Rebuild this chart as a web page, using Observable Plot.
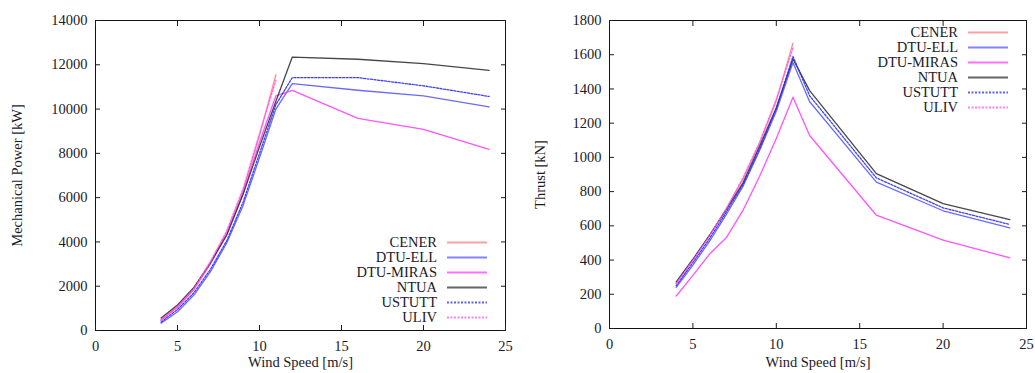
<!DOCTYPE html>
<html>
<head>
<meta charset="utf-8">
<script src="https://cdn.jsdelivr.net/npm/d3@7"></script>
<script src="https://cdn.jsdelivr.net/npm/@observablehq/plot@0.6"></script>
<style>
  html, body { margin: 0; padding: 0; background: #fff; }
  #wrap { position: relative; width: 1035px; height: 373px; display: flex; }
  .panel { position: relative; }
  .legend { position: absolute; font-family: "Liberation Serif", "Times New Roman", serif; font-size: 14.5px; color: #1a1a2a; }
  .legend .row { position: absolute; height: 15px; white-space: nowrap; }
  .legend .lab { position: absolute; right: 50px; top: 0; line-height: 15px; }
  .legend svg { position: absolute; right: 0; top: 0; }
  svg text { font-family: "Liberation Serif", "Times New Roman", serif; }
</style>
</head>
<body>
<div id="wrap"></div>
<script>
// ---- data ----
const series = ["CENER", "DTU-ELL", "DTU-MIRAS", "NTUA", "USTUTT", "ULIV"];
const windFull = [4, 5, 6, 7, 8, 9, 10, 11, 12, 16, 20, 24];
const windShort = [4, 5, 6, 7, 8, 9, 10, 11];

const cenerPower    = [480, 1100, 1900, 3050, 4400, 6300, 8800, 11550];
const dtuEllPower   = [330, 850, 1600, 2650, 3950, 5650, 7800, 10000, 11150, 10850, 10600, 10100];
const dtuMirasPower = [470, 1050, 1850, 3000, 4350, 6200, 8500, 10600, 10840, 9580, 9080, 8180];
const ntuaPower     = [560, 1150, 1950, 3050, 4300, 6150, 8300, 10350, 12350, 12250, 12050, 11750];
const ustuttPower   = [380, 950, 1700, 2750, 4050, 5800, 8000, 10200, 11420, 11420, 11050, 10570];
const ulivPower     = [450, 1080, 1880, 3100, 4500, 6400, 8900, 11300];

const cenerThrust    = [265, 400, 545, 700, 870, 1080, 1330, 1668];
const dtuEllThrust   = [240, 370, 510, 665, 830, 1040, 1270, 1555, 1325, 855, 688, 588];
const dtuMirasThrust = [190, 310, 435, 530, 690, 890, 1110, 1352, 1128, 662, 516, 413];
const ntuaThrust     = [272, 405, 545, 695, 850, 1065, 1290, 1575, 1390, 905, 730, 636];
const ustuttThrust   = [250, 385, 525, 680, 840, 1050, 1285, 1590, 1360, 880, 705, 608];
const ulivThrust     = [262, 398, 540, 700, 880, 1090, 1340, 1640];

const xTicks = [0, 5, 10, 15, 20, 25];
const powerTicks = [0, 2000, 4000, 6000, 8000, 10000, 12000, 14000];
const thrustTicks = [0, 200, 400, 600, 800, 1000, 1200, 1400, 1600, 1800];

const styles = {
  "CENER":     {stroke: "#ff8080", dash: null},
  "DTU-ELL":   {stroke: "#5a5aff", dash: null},
  "DTU-MIRAS": {stroke: "#ff40ff", dash: null},
  "NTUA":      {stroke: "#333333", dash: null},
  "USTUTT":    {stroke: "#2a2aff", dash: "2,1.5"},
  "ULIV":      {stroke: "#ff55ff", dash: "2,1.5"}
};

function rows(xs, ys, name) { return ys.map((v, i) => ({name, x: xs[i], y: v})); }

const powerData = [
  ...rows(windShort, cenerPower, "CENER"),
  ...rows(windFull, dtuEllPower, "DTU-ELL"),
  ...rows(windFull, dtuMirasPower, "DTU-MIRAS"),
  ...rows(windFull, ntuaPower, "NTUA"),
  ...rows(windFull, ustuttPower, "USTUTT"),
  ...rows(windShort, ulivPower, "ULIV")
];
const thrustData = [
  ...rows(windShort, cenerThrust, "CENER"),
  ...rows(windFull, dtuEllThrust, "DTU-ELL"),
  ...rows(windFull, dtuMirasThrust, "DTU-MIRAS"),
  ...rows(windFull, ntuaThrust, "NTUA"),
  ...rows(windFull, ustuttThrust, "USTUTT"),
  ...rows(windShort, ulivThrust, "ULIV")
];

const FONT = '"Liberation Serif", "Times New Roman", serif';

function makePlot(data, opts) {
  const marks = [
    Plot.frame({stroke: "#111", strokeWidth: 1}),
    Plot.axisX({anchor: "bottom", ticks: xTicks, tickSize: -5, tickPadding: 15, tickFormat: d3.format("d"),
      label: "Wind Speed [m/s]", labelAnchor: "center", labelOffset: opts.xLabelOffset, labelArrow: "none", fontSize: 14.5}),
    Plot.axisX({anchor: "top", ticks: xTicks, tickSize: -5, text: null, label: null}),
    Plot.axisY({anchor: "left", ticks: opts.yTicks, tickSize: -5, tickPadding: 13, tickFormat: d3.format("d"),
      label: opts.yLabel, labelAnchor: "center", labelOffset: opts.yLabelOffset, labelArrow: "none", fontSize: 14.5}),
    Plot.axisY({anchor: "right", ticks: opts.yTicks, tickSize: -5, text: null, label: null})
  ];
  for (const s of series) {
    marks.push(Plot.line(data.filter(d => d.name === s), {
      x: "x", y: "y", stroke: styles[s].stroke, strokeWidth: 1.3,
      strokeDasharray: styles[s].dash, strokeOpacity: 0.9
    }));
  }
  return Plot.plot({
    width: opts.width, height: 373,
    marginLeft: opts.ml, marginRight: opts.mr, marginTop: opts.mt, marginBottom: opts.mb,
    style: {fontFamily: FONT, fontSize: "14.5px", color: "#1a1a2a", background: "#fff", overflow: "visible"},
    x: {domain: [0, 25]},
    y: {domain: opts.yDomain},
    marks
  });
}

function makeLegend(top, rightEdge) {
  const div = document.createElement("div");
  div.className = "legend";
  div.style.top = top + "px";
  div.style.left = "0px";
  div.style.width = rightEdge + "px";
  series.forEach((s, i) => {
    const row = document.createElement("div");
    row.className = "row";
    row.style.top = (i * 15) + "px";
    row.style.right = "0px";
    row.style.width = "200px";
    const lab = document.createElement("span");
    lab.className = "lab";
    lab.textContent = s;
    row.appendChild(lab);
    const svg = d3.create("svg").attr("width", 40).attr("height", 15);
    svg.append("line").attr("x1", 0).attr("x2", 40).attr("y1", 7.5).attr("y2", 7.5)
      .attr("stroke", styles[s].stroke).attr("stroke-width", 2)
      .attr("stroke-opacity", 0.75)
      .attr("stroke-dasharray", styles[s].dash);
    row.appendChild(svg.node());
    div.appendChild(row);
  });
  return div;
}

const wrap = document.getElementById("wrap");

const p1 = document.createElement("div"); p1.className = "panel";
p1.appendChild(makePlot(powerData, {
  width: 517, ml: 95, mr: 12, mt: 20, mb: 43,
  yDomain: [0, 14000], yTicks: powerTicks, yLabel: "Mechanical Power [kW]",
  yLabelOffset: 84, xLabelOffset: 36
}));
p1.appendChild(makeLegend(235, 487));
wrap.appendChild(p1);

const p2 = document.createElement("div"); p2.className = "panel";
p2.appendChild(makePlot(thrustData, {
  width: 518, ml: 92, mr: 9, mt: 20, mb: 45,
  yDomain: [0, 1800], yTicks: thrustTicks, yLabel: "Thrust [kN]",
  yLabelOffset: 75, xLabelOffset: 38
}));
p2.appendChild(makeLegend(25, 1008 - 517));
wrap.appendChild(p2);
</script>
</body>
</html>
